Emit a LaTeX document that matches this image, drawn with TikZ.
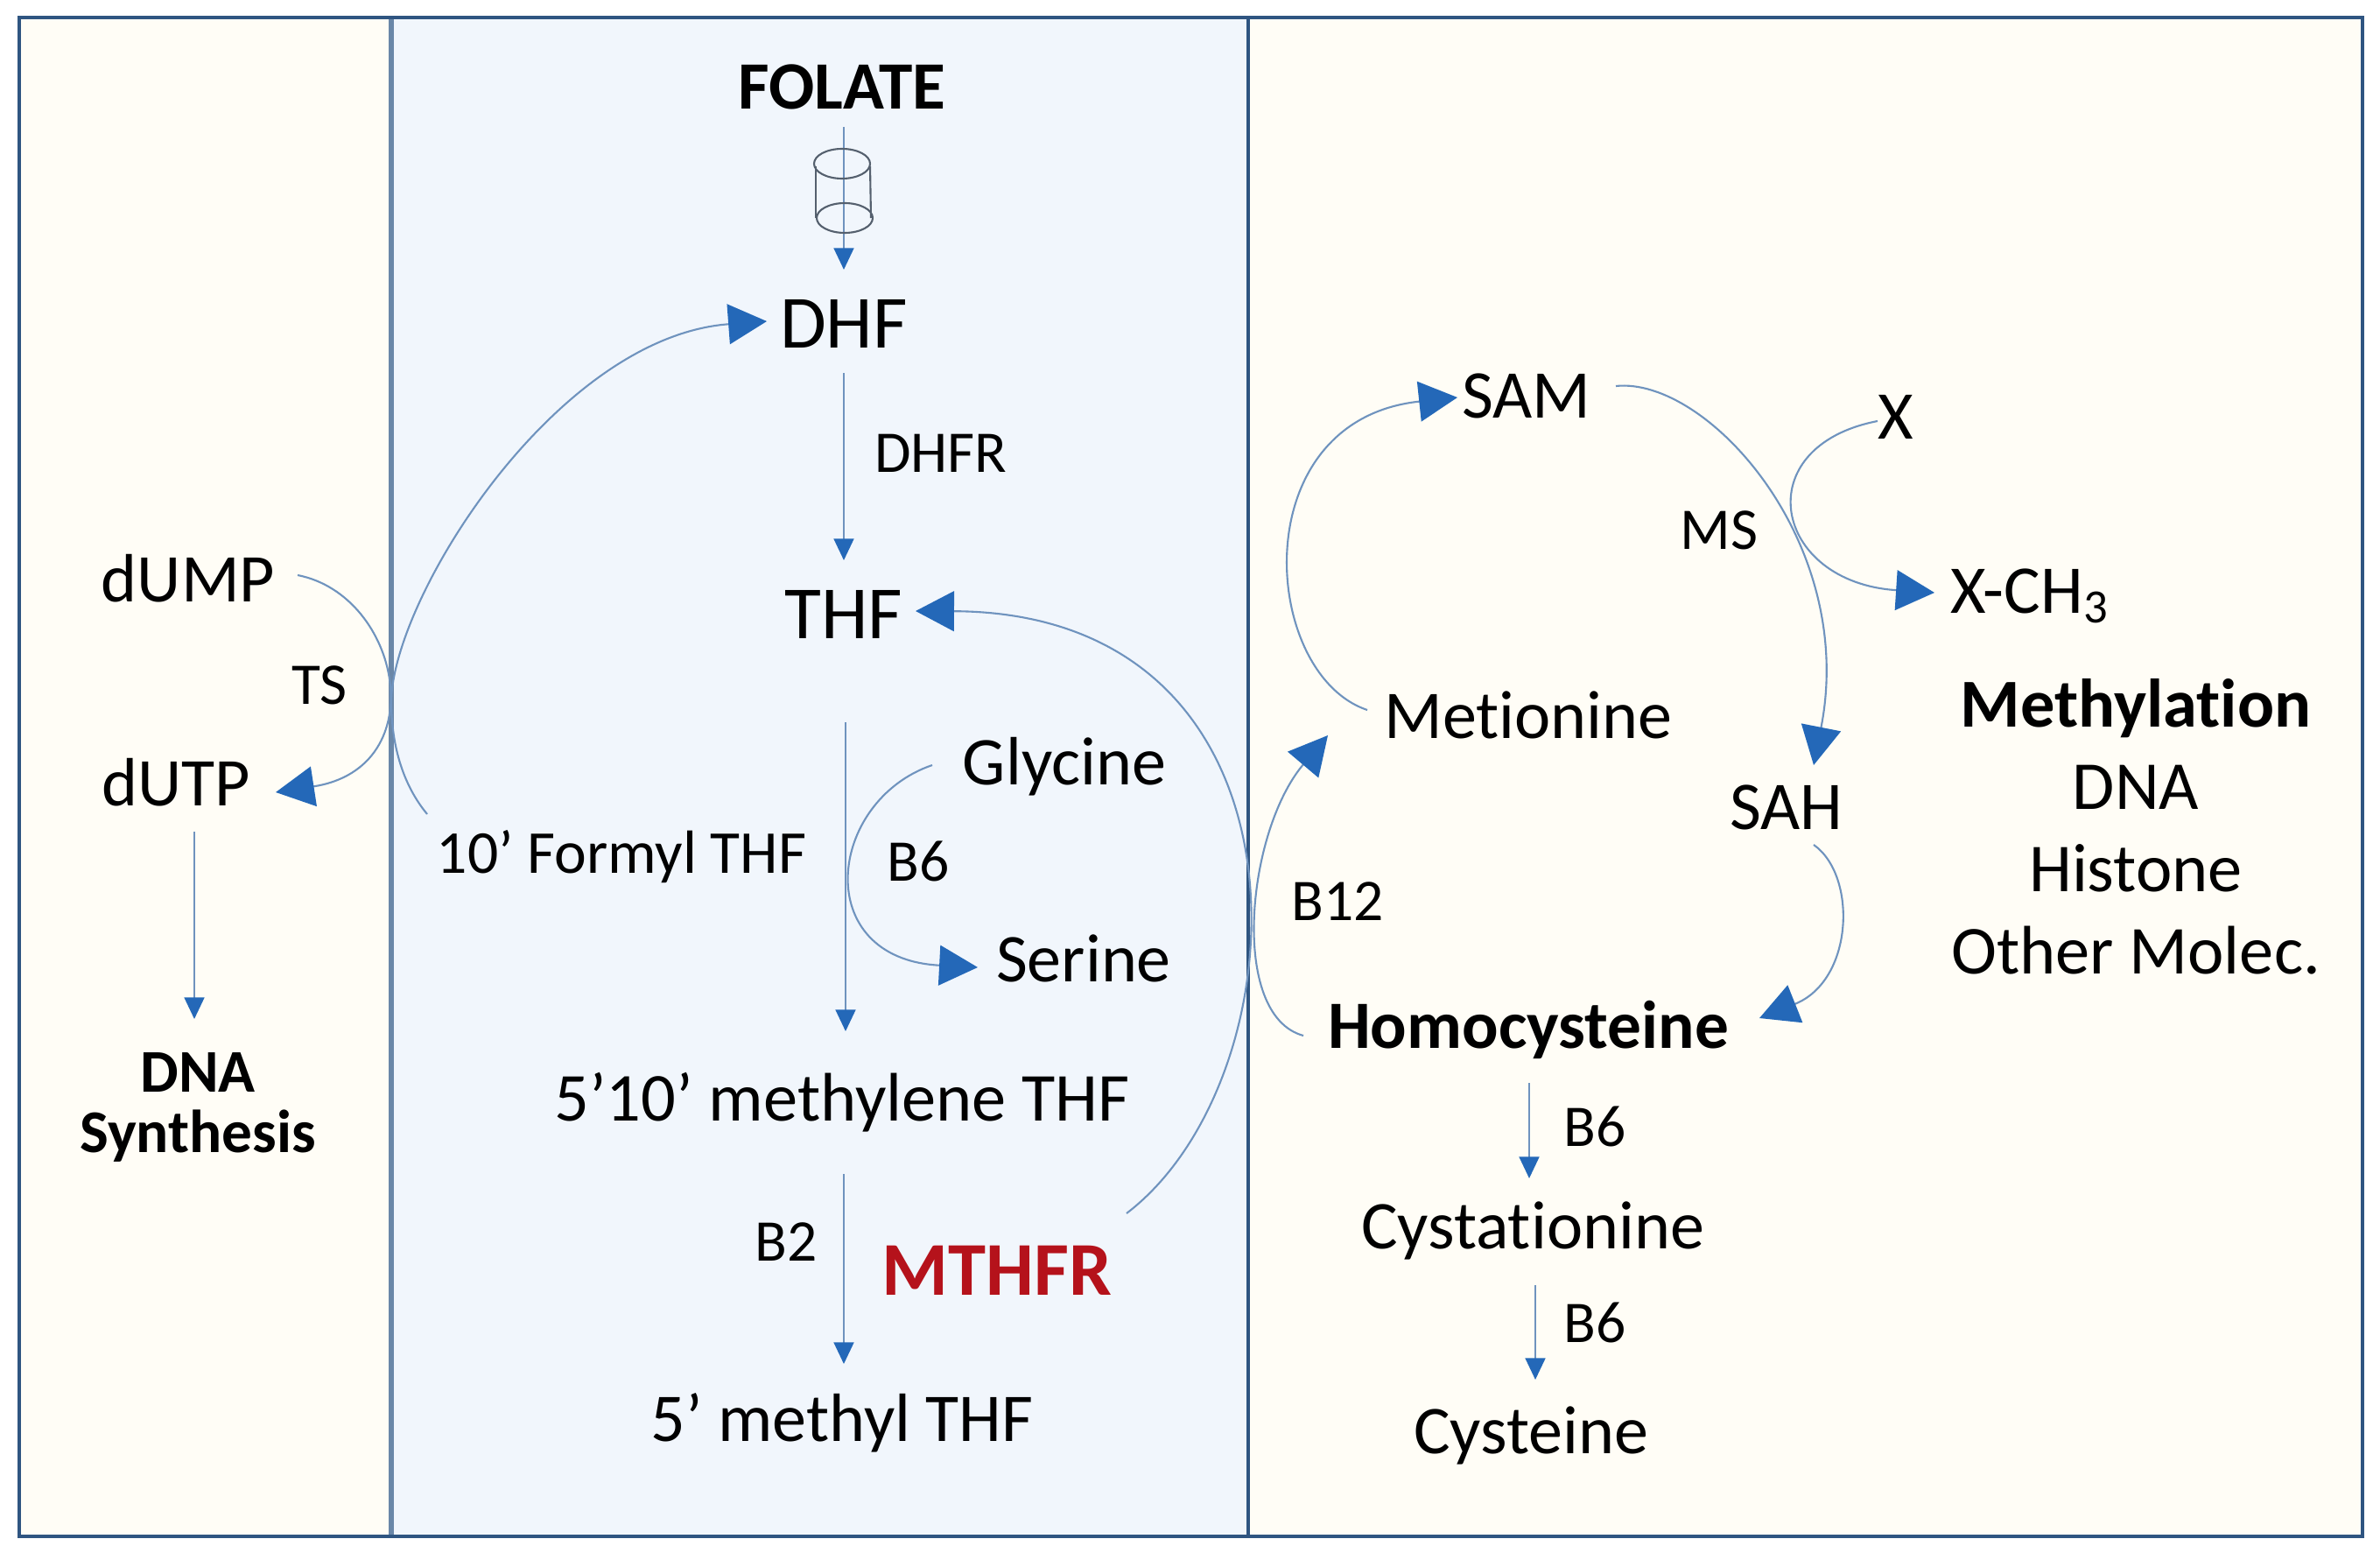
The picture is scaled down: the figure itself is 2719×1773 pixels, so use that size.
\documentclass[tikz,border=0pt]{standalone}
\usepackage{fontspec}
\setmainfont{Carlito}[Ligatures=NoCommon]
\usetikzlibrary{arrows.meta}
\definecolor{sidepane}{HTML}{FFFDF6}
\definecolor{midpane}{HTML}{F1F6FC}
\definecolor{paneedge}{HTML}{2F5581}
\definecolor{softedge}{HTML}{6A87A8}
\definecolor{flowline}{HTML}{6F93BE}
\definecolor{flowtip}{HTML}{2468B8}
\definecolor{enzymered}{HTML}{B5121B}
\definecolor{drumline}{HTML}{55606E}
\tikzset{
  pane/.style={draw=paneedge, line width=1.15pt},
  bigmetab/.style={inner sep=0pt, font=\fontsize{24.4}{28}\selectfont},
  metab/.style={inner sep=0pt, font=\fontsize{22.2}{26}\selectfont},
  boldmetab/.style={inner sep=0pt, font=\fontsize{22}{26}\selectfont\bfseries},
  cofactor/.style={inner sep=0pt, font=\fontsize{19.2}{23}\selectfont},
  flow/.style={draw=flowline, line width=0.6pt, -{Triangle[length=7pt,width=6.5pt,color=flowtip,fill=flowtip]}},
  curveflow/.style={draw=flowline, line width=0.6pt, -{Triangle[length=12.5pt,width=13pt,color=flowtip,fill=flowtip]}},
  drum/.style={draw=drumline, line width=0.6pt}
}
\begin{document}
\begin{tikzpicture}[x=0.01cm,y=-0.01cm]
  \useasboundingbox (0,0) rectangle (2719,1773);

  \fill[sidepane] (22,20) rectangle (2699,1755);
  \fill[midpane] (447,20) rectangle (1426,1755);
  \draw[softedge, line width=1.7pt] (447,20) -- (447,1755);
  \draw[pane] (1426,20) -- (1426,1755);
  \draw[pane] (22,20) rectangle (2699,1755);

  % folate cycle
  \node[boldmetab] (folate) at (962,99) {FOLATE};
  \node[bigmetab] (dhf) at (964,370) {DHF};
  \node[cofactor] (dhfrlabel) at (1075,518) {DHFR};
  \node[bigmetab] (thf) at (964,702) {THF};
  \node[metab] (glycine) at (1216,876) {Glycine};
  \node[cofactor] (bsixa) at (1049,984) {B6};
  \node[metab] (serine) at (1238,1095) {Serine};
  \node[cofactor, font=\fontsize{19.8}{23}\selectfont] (formyl) at (710,979) {10’ Formyl THF};
  \node[metab, font=\fontsize{22.3}{26}\selectfont] (methylene) at (962,1259) {5’10’ methylene THF};
  \node[cofactor] (btwo) at (898,1419) {B2};
  \node[text=enzymered, inner sep=0pt, font=\fontsize{24.7}{29}\selectfont\bfseries] (mthfr) at (1139,1451) {MTHFR};
  \node[metab] (methyl) at (962,1625) {5’ methyl THF};

  % left pane
  \node[metab] (dump) at (215,661) {dUMP};
  \node[cofactor] (ts) at (365,783) {TS};
  \node[metab] (dutp) at (201,894) {dUTP};
  \node[align=center, inner sep=0pt, font=\fontsize{19.7}{19.5}\selectfont\bfseries] (dna) at (226,1265) {DNA\\Synthesis};

  % right pane
  \node[metab] (sam) at (1744,452) {SAM};
  \node[metab] (x) at (2166,476) {X};
  \node[cofactor] (ms) at (1964,606) {MS};
  \node[metab] (xch) at (2319,681) {X-CH\textsubscript{3}};
  \node[metab] (metionine) at (1746,817) {Metionine};
  \node[metab] (sah) at (2041,922) {SAH};
  \node[cofactor] (btwelve) at (1528,1030) {B12};
  \node[boldmetab] (homocysteine) at (1746,1176) {Homocysteine};
  \node[cofactor] (bsixb) at (1822,1287) {B6};
  \node[metab] (cystationine) at (1751,1406) {Cystationine};
  \node[cofactor] (bsixc) at (1822,1511) {B6};
  \node[metab] (cysteine) at (1749,1640) {Cysteine};
  \node[align=center, inner sep=0pt, font=\fontsize{22.3}{26.7}\selectfont] (methylation) at (2440,944)
    {\textbf{Methylation}\\DNA\\Histone\\Other Molec.};

  % straight arrows
  \draw[flow] ([shift={(2,46)}]folate.center) -- ([shift={(0,-62)}]dhf.center);
  \draw[flow] ([shift={(0,56)}]dhf.center) -- ([shift={(0,-62)}]thf.center);
  \draw[flow] ([shift={(2,123)}]thf.center) -- ([shift={(4,-81)}]methylene.center);
  \draw[flow] ([shift={(2,82)}]methylene.center) -- ([shift={(2,-67)}]methyl.center);
  \draw[flow] ([shift={(21,56)}]dutp.center) -- ([shift={(-4,-101)}]dna.center);
  \draw[flow] ([shift={(1,61)}]homocysteine.center) -- ([shift={(-4,-60)}]cystationine.center);
  \draw[flow] ([shift={(3,62)}]cystationine.center) -- ([shift={(5,-64)}]cysteine.center);

  % drum on the folate arrow
  \draw[drum] (962,187) ellipse (32 and 17);
  \draw[drum] (965,249) ellipse (32 and 17);
  \draw[drum] (932,190) -- (932,249);
  \draw[drum] (994,190) -- (995,249);

  % curved arrows
  \draw[curveflow] ([shift={(125,-4)}]dump.center)
    .. controls +(118,23) and +(182,-28) .. ([shift={(114,11)}]dutp.center);
  \coordinate (formylbend) at (447,800);
  \draw[draw=flowline, line width=0.6pt] ([shift={(-222,-49)}]formyl.center)
    .. controls +(-33,-40) and +(0,40) .. (formylbend);
  \draw[curveflow] (formylbend)
    .. controls +(3,-120) and +(-240,18) .. ([shift={(-88,-3)}]dhf.center);
  \draw[curveflow] ([shift={(-151,-2)}]glycine.center)
    .. controls +(-120,41) and +(-192,-10) .. ([shift={(-121,10)}]serine.center);
  \draw[curveflow] ([shift={(148,-65)}]mthfr.center)
    .. controls +(205,-156) and +(470,2) .. ([shift={(82,-4)}]thf.center);
  \draw[curveflow] ([shift={(-257,7)}]homocysteine.center)
    .. controls +(-85,-23) and +(-93,110) .. ([shift={(-229,23)}]metionine.center);
  \draw[curveflow] ([shift={(-184,-6)}]metionine.center)
    .. controls +(-122,-41) and +(-245,26) .. ([shift={(-79,2)}]sam.center);
  \draw[curveflow] ([shift={(102,-11)}]sam.center)
    .. controls +(104,-11) and +(50,-254) .. ([shift={(31,-48)}]sah.center);
  \draw[curveflow] ([shift={(-21,5)}]x.center)
    .. controls +(-150,29) and +(-185,-12) .. ([shift={(-109,-4)}]xch.center);
  \draw[curveflow] ([shift={(31,43)}]sah.center)
    .. controls +(50,35) and +(108,-43) .. ([shift={(264,-13)}]homocysteine.center);
\end{tikzpicture}
\end{document}
